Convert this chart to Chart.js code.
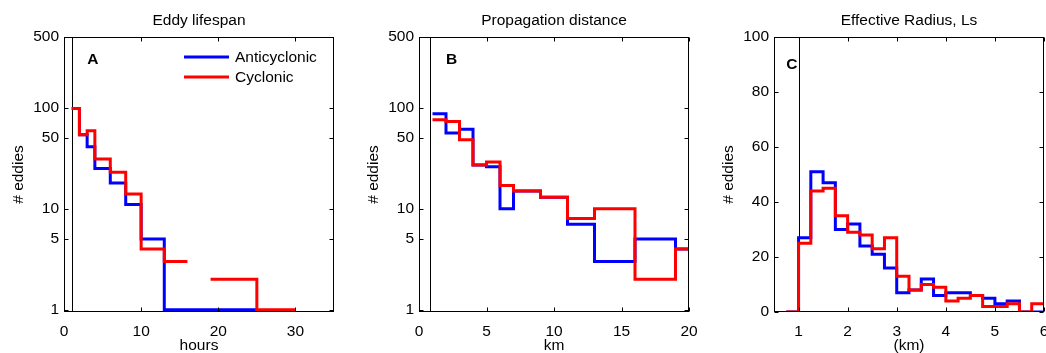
<!DOCTYPE html>
<html><head><meta charset="utf-8">
<script src="https://cdn.jsdelivr.net/npm/chart.js@4.4.1/dist/chart.umd.min.js"></script>
<style>
html,body{margin:0;padding:0;background:#fff;width:1046px;height:353px;overflow:hidden}
canvas{position:absolute;top:0}
</style></head><body>
<canvas id="cA" width="350" height="353" style="left:0px"></canvas>
<canvas id="cB" width="350" height="353" style="left:355px"></canvas>
<canvas id="cC" width="336" height="353" style="left:710px"></canvas>
<script>
// ---- data ----
const lifespanEdges = [1, 2, 3, 4, 6, 8, 10, 13, 16, 19, 25, 30];
const lifespanAnti  = [98, 54, 41, 25, 18, 11, 5, 1, 1, 1, 0];
const lifespanCyc   = [98, 54, 59, 31, 23, 14, 4, 3, 0, 2, 1];

const distEdges = [1, 2, 3, 4, 5, 6, 7, 9, 11, 13, 16, 19, 20];
const distAnti  = [87, 56, 61, 27, 26, 10, 15, 13, 7, 3, 5, 4];
const distCyc   = [76, 73, 48, 27, 29, 17, 15, 13, 8, 10, 2, 4];

const radiusEdges = [0.75, 1, 1.25, 1.5, 1.75, 2, 2.25, 2.5, 2.75, 3, 3.25, 3.5, 3.75, 4, 4.25, 4.5, 4.75, 5, 5.25, 5.5, 5.75, 6];
const radiusAnti  = [0, 27, 51, 47, 30, 32, 24, 21, 16, 7, 8, 12, 6, 7, 7, 6, 5, 3, 4, 0, 0];
const radiusCyc   = [0, 25, 44, 45, 35, 29, 28, 23, 27, 13, 8, 10, 9, 4, 5, 6, 2, 2, 3, 0, 3];

const logYTicks      = [1, 5, 10, 50, 100, 500];
const lifespanXTicks = [0, 10, 20, 30];
const distXTicks     = [0, 5, 10, 15, 20];
const radiusXTicks   = [1, 2, 3, 4, 5, 6];
const radiusYTicks   = [0, 20, 40, 60, 80, 100];

const seriesNames = ['Anticyclonic', 'Cyclonic'];
const seriesColors = ['#0000ff', '#ff0000'];

// ---- helpers ----
const FS = 15.5;
const FAM = "'Liberation Sans', Arial, Helvetica, sans-serif";
Chart.defaults.font.family = FAM;
Chart.defaults.font.size = FS;
Chart.defaults.color = '#000';

function stairs(edges, counts, skipZero) {
  const pts = [];
  for (let i = 0; i < counts.length; i++) {
    const c = counts[i];
    if (skipZero && c <= 0) { pts.push({x: (edges[i] + edges[i + 1]) / 2, y: null}); continue; }
    pts.push({x: edges[i], y: c}, {x: edges[i + 1], y: c});
  }
  return pts;
}

const framePlugin = {
  id: 'frame',
  beforeDatasetsDraw(chart, args, o) {
    const {ctx, chartArea: a, scales} = chart;
    const px = Math.round(scales.x.getPixelForValue(o.refX)) + 0.5;
    ctx.save();
    ctx.strokeStyle = '#000'; ctx.lineWidth = 1;
    ctx.beginPath(); ctx.moveTo(px, a.top); ctx.lineTo(px, a.bottom); ctx.stroke();
    ctx.restore();
  },
  afterDatasetsDraw(chart, args, o) {
    const {ctx, chartArea: a, scales} = chart;
    ctx.save();
    ctx.strokeStyle = '#000'; ctx.lineWidth = 1;
    const L = Math.round(a.left) + 0.5, R = Math.round(a.right) - 0.5;
    const T = Math.round(a.top) + 0.5, B = Math.round(a.bottom) - 0.5;
    ctx.strokeRect(L, T, R - L, B - T);
    const tl = 4;
    ctx.beginPath();
    scales.x.ticks.forEach(t => {
      const x = Math.round(scales.x.getPixelForValue(t.value)) + 0.5;
      ctx.moveTo(x, B); ctx.lineTo(x, B - tl);
      ctx.moveTo(x, T); ctx.lineTo(x, T + tl);
    });
    scales.y.ticks.forEach(t => {
      const y = Math.round(scales.y.getPixelForValue(t.value)) + 0.5;
      ctx.moveTo(L, y); ctx.lineTo(L + tl, y);
      ctx.moveTo(R, y); ctx.lineTo(R - tl, y);
    });
    ctx.stroke();
    // panel letter
    ctx.fillStyle = '#000';
    ctx.font = "bold " + FS + "px " + FAM;
    ctx.textAlign = 'left'; ctx.textBaseline = 'middle';
    ctx.fillText(o.letter, scales.x.getPixelForValue(o.letterAt[0]), scales.y.getPixelForValue(o.letterAt[1]));
    // legend
    if (o.legend) {
      ctx.font = FS + "px " + FAM;
      seriesNames.forEach((name, i) => {
        const y = a.top + 20 + i * 20;
        ctx.strokeStyle = seriesColors[i]; ctx.lineWidth = 3;
        ctx.beginPath(); ctx.moveTo(a.left + 120, y); ctx.lineTo(a.left + 165, y); ctx.stroke();
        ctx.fillStyle = '#000';
        ctx.fillText(name, a.left + 171, y + 1);
      });
    }
    ctx.restore();
  }
};

function makePanel(id, cfg) {
  const mk = (i, counts) => ({
    label: seriesNames[i], data: stairs(cfg.edges, counts, cfg.log),
    borderColor: seriesColors[i], backgroundColor: seriesColors[i],
    borderWidth: 3, pointRadius: 0, tension: 0, spanGaps: false,
    borderJoinStyle: 'miter', borderCapStyle: 'butt', fill: false,
    order: 1 - i
  });
  return new Chart(document.getElementById(id), {
    type: 'line',
    data: {datasets: [mk(0, cfg.anti), mk(1, cfg.cyc)]},
    options: {
      responsive: false, animation: false, devicePixelRatio: 1,
      layout: {padding: {left: 0, right: cfg.padRight, top: 0, bottom: 0}},
      plugins: {
        legend: {display: false}, tooltip: {enabled: false},
        title: {display: true, fullSize: false, text: cfg.title, color: '#000',
                font: {size: FS, weight: 'normal', lineHeight: 1.2}, padding: {top: 11, bottom: 7.4}},
        frame: {refX: cfg.refX, letter: cfg.letter, letterAt: cfg.letterAt, legend: cfg.legend}
      },
      scales: {
        x: {
          type: 'linear', min: cfg.xMin, max: cfg.xMax,
          grid: {display: false, drawTicks: false}, border: {display: false},
          ticks: {padding: 10, color: '#000', maxRotation: 0, autoSkip: false, callback: v => String(v)},
          title: {display: true, text: cfg.xTitle, color: '#000', padding: 0, font: {size: FS, lineHeight: 1}},
          afterBuildTicks: s => { s.ticks = cfg.xTicks.map(v => ({value: v})); },
          afterFit: s => { s.height = 41; s.paddingLeft = 0; s.paddingRight = 0; }
        },
        y: {
          type: cfg.log ? 'logarithmic' : 'linear', min: cfg.yMin, max: cfg.yMax,
          grid: {display: false, drawTicks: false}, border: {display: false},
          ticks: {padding: 5, color: '#000', autoSkip: false, callback: v => String(v)},
          title: {display: true, text: '# eddies', color: '#000', padding: {top: 9, bottom: 0}},
          afterBuildTicks: s => { s.ticks = cfg.yTicks.map(v => ({value: v})); },
          afterFit: s => { s.width = 64; s.paddingTop = 0; s.paddingBottom = 0; }
        }
      }
    },
    plugins: [framePlugin]
  });
}

makePanel('cA', {edges: lifespanEdges, anti: lifespanAnti, cyc: lifespanCyc, log: true,
  xMin: 0, xMax: 35, yMin: 0.95, yMax: 500, xTicks: lifespanXTicks, yTicks: logYTicks,
  title: 'Eddy lifespan', xTitle: 'hours', refX: 1, letter: 'A', letterAt: [3, 300], legend: true, padRight: 16});
makePanel('cB', {edges: distEdges, anti: distAnti, cyc: distCyc, log: true,
  xMin: 0, xMax: 20, yMin: 0.95, yMax: 500, xTicks: distXTicks, yTicks: logYTicks,
  title: 'Propagation distance', xTitle: 'km', refX: 0.8, letter: 'B', letterAt: [2, 300], legend: false, padRight: 16});
makePanel('cC', {edges: radiusEdges, anti: radiusAnti, cyc: radiusCyc, log: false,
  xMin: 0.5, xMax: 6, yMin: 0, yMax: 100, xTicks: radiusXTicks, yTicks: radiusYTicks,
  title: 'Effective Radius, Ls', xTitle: '(km)', refX: 1, letter: 'C', letterAt: [0.75, 90], legend: false, padRight: 2});
</script>
</body></html>
